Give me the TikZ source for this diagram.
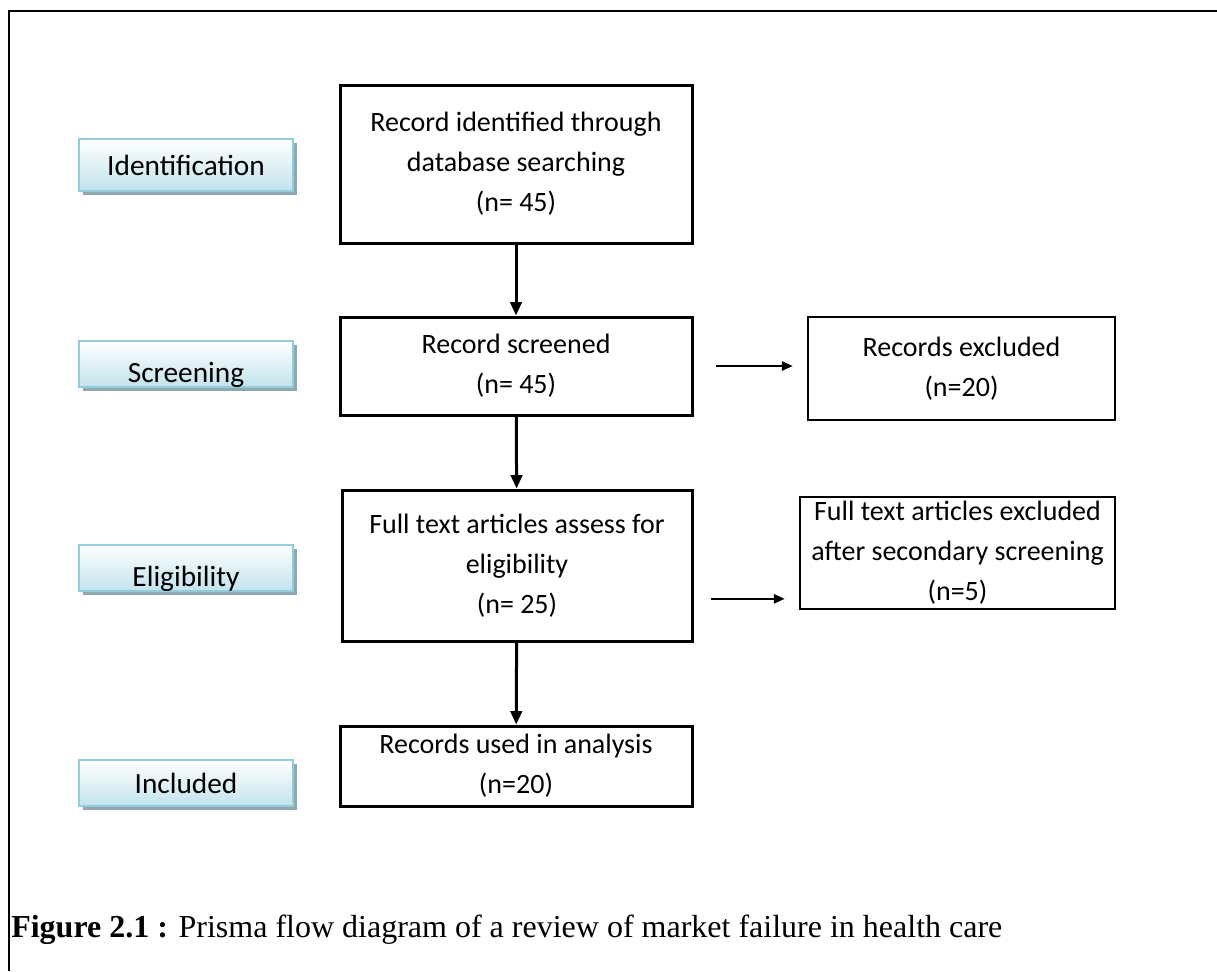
\documentclass[tikz,border=0pt]{standalone}
\usepackage{fontspec}
\setmainfont{Carlito}
\newfontfamily\capfont{Liberation Serif}
\usepackage{xcolor}
\definecolor{stageline}{HTML}{93CDDD}
\definecolor{stagefill}{HTML}{C2E3EC}
\definecolor{stageshade}{HTML}{8FA8B0}
\usepackage{tikz}
\usetikzlibrary{arrows.meta,positioning,shadows}

\begin{document}
\begin{tikzpicture}[
  x=0.75pt, y=-0.75pt,
  every node/.style={font=\fontsize{22}{30}\selectfont},
  stage/.style={rectangle, draw=stageline, line width=1.5pt, top color=white, bottom color=stagefill,
    minimum width=160.5pt, minimum height=39pt, inner sep=0pt,
    drop shadow={shadow xshift=3pt, shadow yshift=-3pt, fill=stageshade, opacity=1}},
  stagelow/.style={stage, minimum height=34.5pt, text height=28pt, text depth=0pt},
  flowbox/.style={rectangle, draw=black, line width=2.25pt, align=center, minimum width=264pt, inner sep=0pt,
    font=\fontsize{21}{30}\selectfont},
  sidebox/.style={rectangle, draw=black, line width=1.1pt, align=center, inner sep=0pt,
    font=\fontsize{21}{30}\selectfont},
  down/.style={-{Triangle[length=10pt,width=8.5pt]}, line width=2.25pt},
  side/.style={-{Triangle[length=8pt,width=7pt]}, line width=1.1pt},
]
  \useasboundingbox (0,0) rectangle (1217,971);

  % frame (top and left only)
  \draw[line width=1.5pt] (1217,11) -- (9,11) -- (9,971);

  % stages
  \node[stage] (ident) at (186,165) {Identification};
  \node[stagelow] (screen) at (186,364) {Screening};
  \node[stagelow] (elig) at (186,568) {Eligibility};
  \node[stage, minimum height=34pt] (incl) at (186,783) {Included};

  % main flow
  \node[flowbox, minimum height=118.5pt] (found) at (516,164) {Record identified through\\database searching\\(n= 45)};
  \node[flowbox, minimum height=73.5pt] (screened) at (516,366) {Record screened\\(n= 45)};
  \node[flowbox, minimum width=262.5pt, minimum height=113.25pt] (full) at (517,565.5) {Full text articles assess for\\eligibility\\(n= 25)};
  \node[flowbox, minimum height=60pt] (used) at (516,766) {Records used in analysis\\(n=20)};

  % exclusions
  \node[sidebox, minimum width=230.25pt, minimum height=77.25pt] (excl) at (961.5,368.5) {Records excluded\\(n=20)};
  \node[sidebox, minimum width=236.25pt, minimum height=84pt] (fullexcl) at (957.5,553) {Full text articles excluded\\after secondary screening\\(n=5)};

  \draw[down] (found) -- (screened);
  \draw[down] (screened) -- (full);
  \draw[down] (full) -- (used);
  \draw[side, shorten <=17pt, shorten >=11pt] (screened.east) -- (screened.east -| excl.west);
  \draw[side, shorten <=13pt, shorten >=11pt] ([yshift=-25pt]full.east) -- ([yshift=-25pt]full.east -| fullexcl.west);

  % caption
  \node[anchor=west, inner sep=0pt, font=\capfont\fontsize{24}{28}\selectfont] (cap) at (11,930)
    {\textbf{Figure 2.1 :} Prisma flow diagram of a review of market failure in health care};
\end{tikzpicture}
\end{document}
